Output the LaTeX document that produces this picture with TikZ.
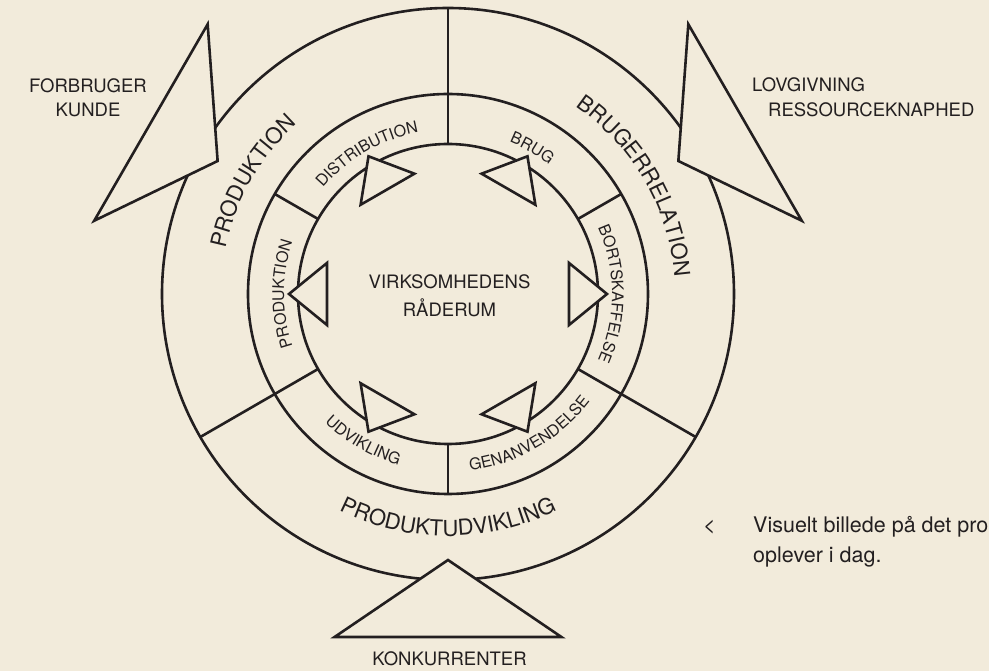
\documentclass[tikz,border=0pt]{standalone}
\usepackage{fontspec}
\setmainfont{TeX Gyre Heros}
\usetikzlibrary{decorations.text}
\definecolor{paper}{HTML}{F2EBDB}
\definecolor{ink}{HTML}{231F20}
\newcommand\ringbig{\fontsize{22}{22}\selectfont}
\newcommand\ringsmall{\fontsize{16}{16}\selectfont}

\begin{document}
\begin{tikzpicture}[x=1pt,y=1pt,
  ring/.style={draw=ink, line width=2.6pt},
  wedge/.style={draw=ink, fill=paper, line width=2.6pt, line join=miter},
  lbl/.style={text=ink, inner sep=0pt, font=\fontsize{18.5}{22}\selectfont},
  note/.style={text=ink, inner sep=0pt, font=\fontsize{21.5}{26}\selectfont},
  arctext/.style={decorate, decoration={text along path, text align=center,
      text color=ink, text={#1}}},
]
\useasboundingbox (-448,-377) rectangle (541,294);
\fill[paper] (-448,-377) rectangle (541,294);

% three concentric rings
\coordinate (c) at (0,0);
\draw[ring] (c) circle[radius=286];
\draw[ring] (c) circle[radius=200];
\draw[ring] (c) circle[radius=150];

% dividers of the outer ring (run through to the inner circle)
\foreach \a in {90,210,330} \draw[ring] (\a:286) -- (\a:150);
% dividers of the middle ring only
\foreach \a in {30,150,270} \draw[ring] (\a:200) -- (\a:150);

% outside forces: large triangles cutting into the outer circle
\foreach \p in {270,150,30}
  \draw[wedge] (\p:266) -- (\p-18.3:361.3) -- (\p+18.3:361.3) -- cycle;

% small triangles sitting on the inner circle
\foreach \p in {0,60,...,300}
  \draw[wedge] (\p:159) -- (\p+14.4:124.9) -- (\p-14.4:124.9) -- cycle;

% outer ring labels
\path[arctext={|\ringbig|PRODUKTION}] (210:227) arc[start angle=210, end angle=90, radius=227];
\path[arctext={|\ringbig|BRUGERRELATION}] (90:227) arc[start angle=90, end angle=-30, radius=227];
\path[arctext={|\ringbig|PRODUKTUDVIKLING}] (210:242) arc[start angle=210, end angle=330, radius=242];

% middle ring labels
\path[arctext={|\ringsmall|DISTRIBUTION}] (150:164) arc[start angle=150, end angle=90, radius=164];
\path[arctext={|\ringsmall|BRUG}] (90:164) arc[start angle=90, end angle=30, radius=164];
\path[arctext={|\ringsmall|BORTSKAFFELSE}] (30:164) arc[start angle=30, end angle=-30, radius=164];
\path[arctext={|\ringsmall|PRODUKTION}] (210:164) arc[start angle=210, end angle=150, radius=164];
\path[arctext={|\ringsmall|UDVIKLING}] (210:178) arc[start angle=210, end angle=270, radius=178];
\path[arctext={|\ringsmall|GENANVENDELSE}] (270:178) arc[start angle=270, end angle=330, radius=178];

% centre
\node[lbl, anchor=base] (core1) at (1.5,5) {VIRKSOMHEDENS};
\node[lbl, anchor=base] (core2) at (1.5,-23) {RÅDERUM};

% outside labels
\node[lbl, anchor=base] (kunde1) at (-360,201) {FORBRUGER};
\node[lbl, anchor=base] (kunde2) at (-360,177) {KUNDE};
\node[lbl, anchor=base west] (lov1) at (304,202) {LOVGIVNING};
\node[lbl, anchor=base west] (lov2) at (320,177) {RESSOURCEKNAPHED};
\node[lbl, anchor=base] (konk) at (1.5,-372) {KONKURRENTER};

% caption
\node[note, anchor=base west] (arrow) at (255,-239) {<};
\node[note, anchor=base west] (cap1) at (305,-239) {Visuelt billede på det pro};
\node[note, anchor=base west] (cap2) at (305,-269) {oplever i dag.};
\end{tikzpicture}
\end{document}
